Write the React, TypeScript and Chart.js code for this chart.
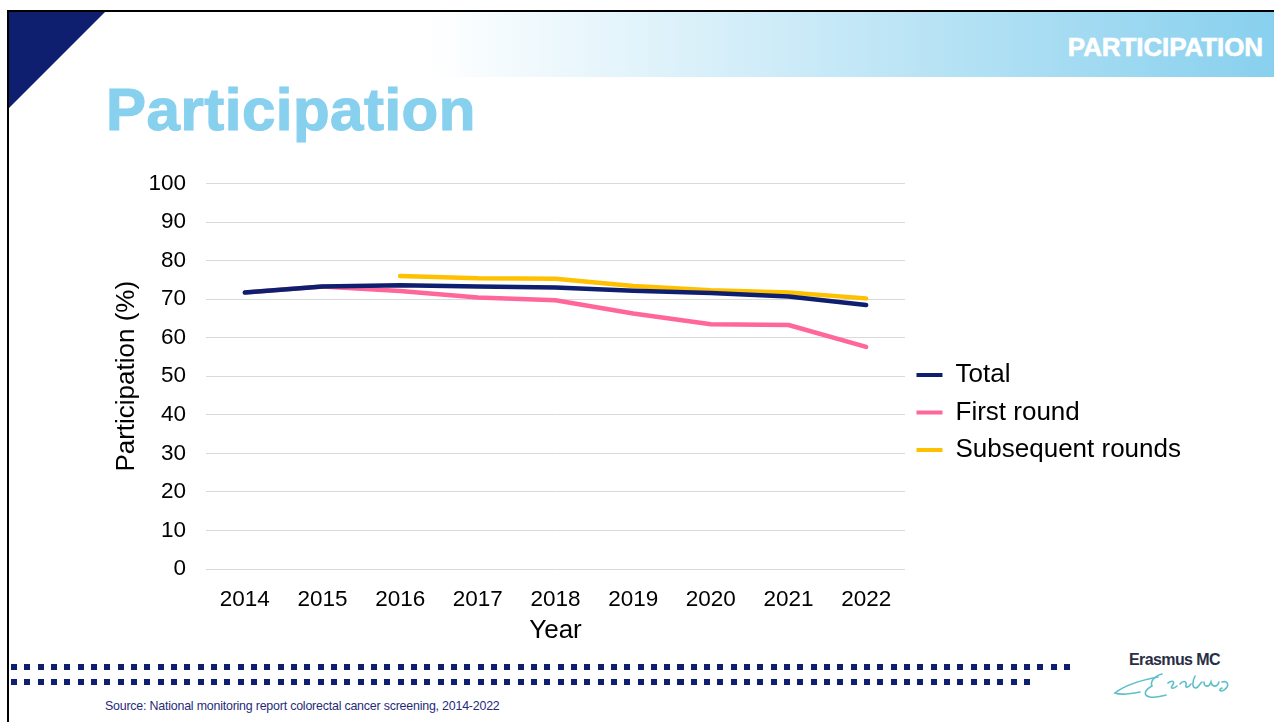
import React, { useEffect, useRef } from "react";
import { Chart, registerables } from "chart.js";

Chart.register(...registerables);

// ---- data ----
const years = ["2014", "2015", "2016", "2017", "2018", "2019", "2020", "2021", "2022"];
const seriesLabels = ["Total", "First round", "Subsequent rounds"];
const totalValues = [71.7, 73.3, 73.6, 73.3, 73.0, 72.2, 71.6, 70.7, 68.5];
const firstRoundValues = [71.7, 73.3, 72.1, 70.4, 69.7, 66.3, 63.5, 63.3, 57.6];
const subsequentValues: (number | null)[] = [null, null, 76.0, 75.4, 75.3, 73.4, 72.3, 71.7, 70.2];
const yMin = 0;
const yMax = 100;
const yStep = 10;

const FONT = "'Liberation Sans', Arial, Helvetica, sans-serif";
const NAVY = "#0E1F6F";
const PINK = "#FF6699";
const GOLD = "#FFC000";

function ParticipationChart() {
  const ref = useRef<HTMLCanvasElement | null>(null);
  useEffect(() => {
    if (!ref.current) return;
    const chart = new Chart(ref.current, {
      type: "line",
      data: {
        labels: years,
        datasets: [
          { label: seriesLabels[0], data: totalValues, borderColor: NAVY, backgroundColor: NAVY },
          { label: seriesLabels[1], data: firstRoundValues, borderColor: PINK, backgroundColor: PINK },
          { label: seriesLabels[2], data: subsequentValues, borderColor: GOLD, backgroundColor: GOLD },
        ].map((d) => ({
          ...d,
          borderWidth: 4.5,
          pointRadius: 0,
          pointHoverRadius: 0,
          tension: 0,
          fill: false,
          spanGaps: false,
          borderCapStyle: "round" as const,
          borderJoinStyle: "round" as const,
        })),
      },
      options: {
        animation: false,
        responsive: true,
        maintainAspectRatio: false,
        layout: { padding: { top: 29, left: 8, right: 0, bottom: 0 } },
        plugins: {
          tooltip: { enabled: false },
          legend: {
            position: "right",
            align: "center",
            labels: {
              boxWidth: 26,
              boxHeight: 4,
              padding: 11.5,
              color: "#000",
              font: { family: FONT, size: 26 },
              generateLabels: (c: any) =>
                Chart.defaults.plugins.legend.labels
                  .generateLabels(c)
                  .map((l: any) => ({ ...l, fillStyle: l.strokeStyle, lineWidth: 0 })),
            },
          },
        },
        scales: {
          x: {
            offset: true,
            grid: { display: false, drawTicks: false },
            border: { display: false },
            ticks: {
              autoSkip: false,
              maxRotation: 0,
              minRotation: 0,
              padding: 17.5,
              color: "#000",
              font: { family: FONT, size: 22.5 },
            },
            title: {
              display: true,
              text: "Year",
              color: "#000",
              font: { family: FONT, size: 26 },
              padding: { top: 4, bottom: 0 },
            },
            afterFit: (s: any) => {
              s.height = 77;
            },
          },
          y: {
            min: yMin,
            max: yMax,
            grid: { color: "#D9D9D9", lineWidth: 1, drawTicks: false },
            border: { display: false },
            ticks: {
              stepSize: yStep,
              padding: 20,
              color: "#000",
              font: { family: FONT, size: 22.5 },
            },
            title: {
              display: true,
              text: "Participation (%)",
              color: "#000",
              font: { family: FONT, size: 26 },
              padding: { top: 87.4, bottom: 4 },
            },
            afterFit: (s: any) => {
              s.width = 182;
            },
          },
        },
      },
    });
    return () => chart.destroy();
  }, []);
  return <canvas ref={ref} />;
}

function DotRow({ left, top, width }: { left: number; top: number; width: number }) {
  return (
    <div
      style={{
        position: "absolute",
        left,
        top,
        width,
        height: 6,
        background: `repeating-linear-gradient(to right, ${NAVY} 0px, ${NAVY} 6px, transparent 6px, transparent 13.33px)`,
      }}
    />
  );
}

export default function App() {
  return (
    <div style={{ position: "fixed", inset: 0, overflow: "hidden", background: "#fff", fontFamily: FONT }}>
      {/* slide border */}
      <div
        style={{
          position: "absolute",
          left: 7,
          top: 10,
          width: 1267,
          height: 712,
          borderTop: "2px solid #000",
          borderLeft: "2px solid #000",
          boxSizing: "border-box",
        }}
      />
      {/* header band */}
      <div
        style={{
          position: "absolute",
          left: 9,
          top: 12,
          width: 1265,
          height: 65,
          background: "linear-gradient(to right, #ffffff 0%, #ffffff 33%, #88D0EE 100%)",
        }}
      />
      {/* navy triangle */}
      <div
        style={{
          position: "absolute",
          left: 9,
          top: 12,
          width: 96,
          height: 96,
          background: NAVY,
          clipPath: "polygon(0 0, 100% 0, 0 100%)",
        }}
      />
      <div
        style={{
          position: "absolute",
          right: 11,
          top: 33.5,
          fontSize: 26,
          lineHeight: "26px",
          fontWeight: 700,
          color: "#fff",
          letterSpacing: -0.1,
          WebkitTextStroke: "0.6px #fff",
          whiteSpace: "nowrap",
        }}
      >
        PARTICIPATION
      </div>
      <div
        style={{
          position: "absolute",
          left: 106,
          top: 79.6,
          fontSize: 60,
          lineHeight: "60px",
          fontWeight: 700,
          color: "#87D0EE",
          letterSpacing: 0.5,
          WebkitTextStroke: "1.2px #87D0EE",
          whiteSpace: "nowrap",
        }}
      >
        Participation
      </div>

      <div style={{ position: "absolute", left: 16, top: 150, width: 1175, height: 496 }}>
        <ParticipationChart />
      </div>

      <DotRow left={11} top={664} width={1064} />
      <DotRow left={11} top={679} width={1024} />

      <div
        style={{
          position: "absolute",
          left: 105,
          top: 699.5,
          fontSize: 12.4,
          lineHeight: "13px",
          color: "#1F2C7A",
          letterSpacing: -0.2,
          whiteSpace: "nowrap",
        }}
      >
        Source: National monitoring report colorectal cancer screening, 2014-2022
      </div>

      {/* logo */}
      <div
        style={{
          position: "absolute",
          left: 1129,
          top: 651,
          fontSize: 16,
          lineHeight: "17px",
          fontWeight: 700,
          color: "#2A2E45",
          letterSpacing: -0.6,
          whiteSpace: "nowrap",
        }}
      >
        Erasmus MC
      </div>
      <svg
        style={{ position: "absolute", left: 1110, top: 668, overflow: "visible" }}
        width={135}
        height={34}
        viewBox="0 0 135 34"
      >
        <g fill="none" stroke="#5DBFC9" strokeWidth={1.6} strokeLinecap="round">
          <path d="M5 25 C 15 17, 32 12, 48 9" />
          <path d="M5 25 C 10 27, 20 26, 30 24" />
          <path d="M52 6 C 44 8, 40 14, 42 18 C 34 22, 33 28, 40 29 C 46 30, 52 28, 56 27" />
          <path d="M58 15 C 62 12, 66 13, 62 18 C 60 21, 64 21, 67 18" />
          <path d="M70 16 C 73 12, 77 13, 76 17 C 75 20, 78 20, 81 16" />
          <path d="M85 8 C 82 14, 82 20, 86 20 C 89 19, 90 15, 92 14" />
          <path d="M94 14 C 94 19, 99 20, 101 14 C 102 19, 107 20, 109 14" />
          <path d="M112 14 C 118 12, 120 18, 114 22 C 110 24, 108 22, 112 20" />
        </g>
      </svg>
    </div>
  );
}
